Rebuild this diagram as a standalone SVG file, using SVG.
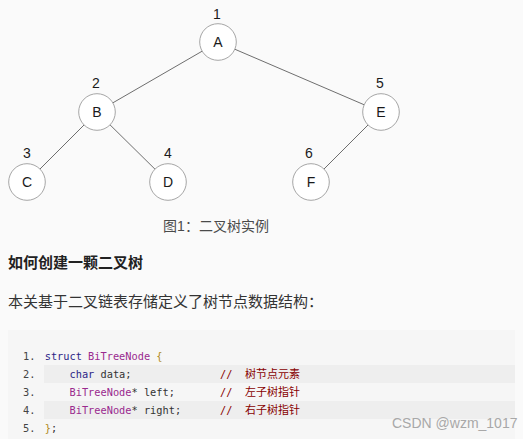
<svg xmlns="http://www.w3.org/2000/svg" width="523" height="439" viewBox="0 0 523 439">
<style>
.bg{fill:#fafafa}
.edge{stroke:#6e6e6e;stroke-width:1}
.node circle{fill:#fff;stroke:#a6a6a6;stroke-width:1}
.lbl{font-family:"Liberation Sans","Noto Sans CJK SC",sans-serif;font-size:14px;fill:#1a1a1a;text-anchor:middle}
.num{font-family:"Liberation Sans",sans-serif;font-size:14px;fill:#1a1a1a;text-anchor:middle}
.cap{font-family:"Liberation Sans","Noto Sans CJK SC",sans-serif;font-size:14px;fill:#4a4a4a;text-anchor:middle}
.h{font-family:"Liberation Sans","Noto Sans CJK SC",sans-serif;font-size:15px;font-weight:bold;fill:#222}
.p{font-family:"Liberation Sans","Noto Sans CJK SC",sans-serif;font-size:15px;fill:#333}
.code{font-family:"DejaVu Sans Mono","Liberation Mono",monospace;font-size:10.3px;fill:#333;white-space:pre}
.ln{fill:#444}
.kw{fill:#2c1f86}
.ty{fill:#9a2a8e}
.br{fill:#b08a1a}
.cm{fill:#880000}
.cjk{font-family:"Noto Sans CJK SC",sans-serif;font-size:11px;fill:#880000}
.wm{font-family:"Liberation Sans",sans-serif;font-size:14px;fill:#a8a8a8}
</style>
<rect class="bg" x="0" y="0" width="523" height="439"/>
<g id="connectors">
<line class="edge" x1="218" y1="42" x2="97" y2="112"/>
<line class="edge" x1="218" y1="42" x2="381" y2="112"/>
<line class="edge" x1="97" y1="112" x2="27" y2="182"/>
<line class="edge" x1="97" y1="112" x2="168" y2="182"/>
<line class="edge" x1="381" y1="112" x2="311" y2="182"/>
</g>
<g id="node-A" class="node"><circle cx="218" cy="42" r="18.3"/><text class="lbl" x="218" y="47">A</text><text class="num" x="217" y="19">1</text></g>
<g id="node-B" class="node"><circle cx="97" cy="112" r="18.3"/><text class="lbl" x="97" y="117">B</text><text class="num" x="96" y="88">2</text></g>
<g id="node-E" class="node"><circle cx="381" cy="112" r="18.3"/><text class="lbl" x="381" y="117">E</text><text class="num" x="380" y="88">5</text></g>
<g id="node-C" class="node"><circle cx="27" cy="182" r="18.3"/><text class="lbl" x="27" y="187">C</text><text class="num" x="27" y="158">3</text></g>
<g id="node-D" class="node"><circle cx="168" cy="182" r="18.3"/><text class="lbl" x="168" y="187">D</text><text class="num" x="168" y="158">4</text></g>
<g id="node-F" class="node"><circle cx="311" cy="182" r="18.3"/><text class="lbl" x="311" y="187">F</text><text class="num" x="309" y="158">6</text></g>
<text class="cap" x="216" y="231">图1：二叉树实例</text>
<text class="h" x="8" y="268">如何创建一颗二叉树</text>
<text class="p" x="8" y="307">本关基于二叉链表存储定义了树节点数据结构：</text>
<rect x="8" y="330" width="507" height="109" fill="#f6f6f6"/>
<rect x="44" y="365" width="471" height="18" fill="#eeeeee"/>
<rect x="44" y="401" width="471" height="18" fill="#eeeeee"/>
<g class="code">
<text class="code ln" x="23" y="360">1.</text>
<text class="code ln" x="23" y="378">2.</text>
<text class="code ln" x="23" y="396">3.</text>
<text class="code ln" x="23" y="414">4.</text>
<text class="code ln" x="23" y="432">5.</text>
<text class="code" x="44.7" y="360"><tspan class="kw">struct</tspan> <tspan class="ty">BiTreeNode</tspan> <tspan class="br">{</tspan></text>
<text class="code" x="69.5" y="378"><tspan class="kw">char</tspan> data;</text>
<text class="code" x="69.5" y="396"><tspan class="ty">BiTreeNode</tspan>* left;</text>
<text class="code" x="69.5" y="414"><tspan class="ty">BiTreeNode</tspan>* right;</text>
<text class="code" x="44.7" y="432"><tspan class="br">}</tspan>;</text>
<text class="code cm" x="220" y="378">//</text>
<text class="code cm" x="220" y="396">//</text>
<text class="code cm" x="220" y="414">//</text>
<text class="cjk" x="245" y="378">树节点元素</text>
<text class="cjk" x="245" y="396">左子树指针</text>
<text class="cjk" x="245" y="414">右子树指针</text>
</g>
<text class="wm" x="392" y="428">CSDN @wzm_1017</text>
</svg>
